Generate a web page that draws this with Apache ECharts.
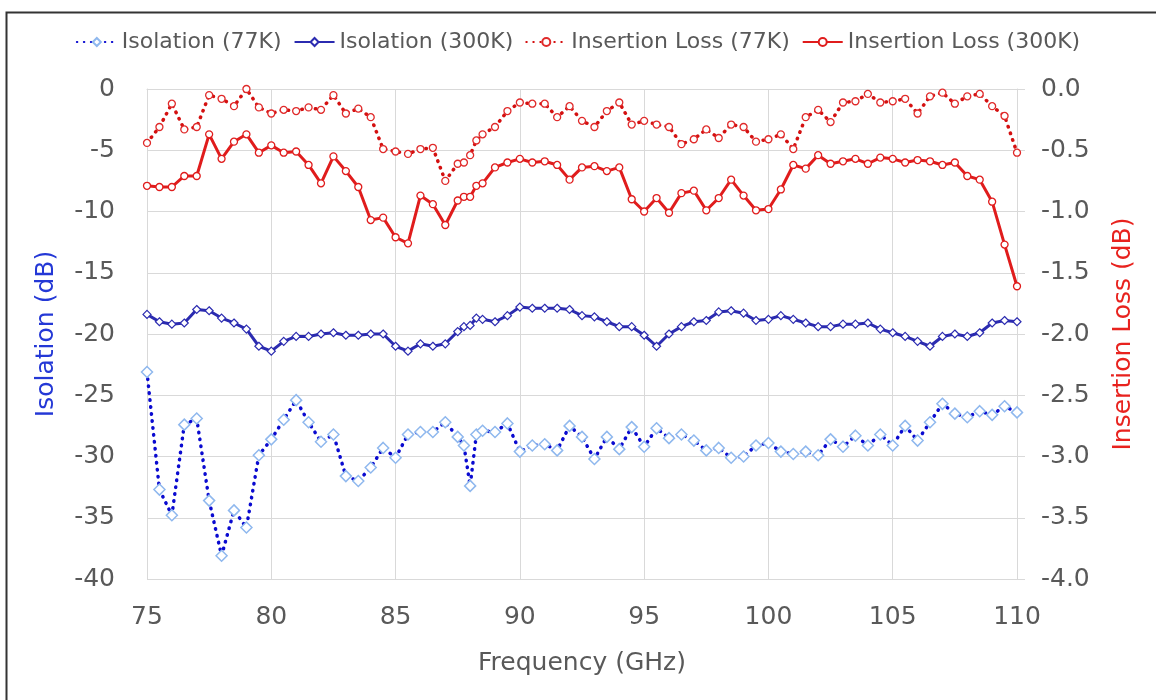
<!DOCTYPE html>
<html lang="en">
<head>
	<meta charset="UTF-8">
	<title>Isolation / Insertion Loss</title>
	<style>
		html, body { margin: 0; padding: 0; background: #fff; }
		#chart { width: 1156px; height: 700px; }
	</style>
</head>
<body>
	<div id="chart"></div>
<script src="https://cdn.jsdelivr.net/npm/echarts/dist/echarts.min.js"></script>
<script>
	// frequency points (GHz) - a few extra points around 88 GHz
	var freq = [75,75.5,76,76.5,77,77.5,78,78.5,79,79.5,
		80,80.5,81,81.5,82,82.5,83,83.5,84,84.5,
		85,85.5,86,86.5,87,87.5,87.75,88,88.25,88.5,
		89,89.5,90,90.5,91,91.5,92,92.5,93,93.5,
		94,94.5,95,95.5,96,96.5,97,97.5,98,98.5,
		99,99.5,100,100.5,101,101.5,102,102.5,103,103.5,
		104,104.5,105,105.5,106,106.5,107,107.5,108,108.5,
		109,109.5,110];

	// isolation (dB), left axis
	var iso77 = [-23.1,-32.7,-34.8,-27.4,-26.9,-33.6,-38.1,-34.4,-35.8,-29.9,
		-28.6,-27.0,-25.4,-27.2,-28.8,-28.2,-31.6,-32.0,-30.9,-29.3,
		-30.1,-28.2,-28.0,-28.0,-27.2,-28.4,-29.1,-32.4,-28.2,-27.9,
		-28.0,-27.3,-29.6,-29.1,-29.0,-29.5,-27.5,-28.4,-30.2,-28.4,
		-29.4,-27.6,-29.2,-27.7,-28.5,-28.2,-28.7,-29.5,-29.3,-30.1,
		-30.0,-29.1,-28.9,-29.6,-29.8,-29.6,-29.9,-28.6,-29.2,-28.3,
		-29.1,-28.2,-29.1,-27.5,-28.7,-27.2,-25.7,-26.5,-26.8,-26.3,
		-26.6,-25.9,-26.4];
	var iso300 = [-18.4,-19.0,-19.2,-19.1,-18.0,-18.1,-18.7,-19.1,-19.6,-21.0,
		-21.4,-20.6,-20.2,-20.2,-20.0,-19.9,-20.1,-20.1,-20.0,-20.0,
		-21.0,-21.4,-20.8,-21.0,-20.8,-19.8,-19.4,-19.3,-18.7,-18.8,
		-19.0,-18.5,-17.8,-17.9,-17.9,-17.9,-18.0,-18.5,-18.6,-19.0,
		-19.4,-19.4,-20.1,-21.0,-20.0,-19.4,-19.0,-18.9,-18.2,-18.1,
		-18.3,-18.9,-18.8,-18.5,-18.8,-19.1,-19.4,-19.4,-19.2,-19.2,
		-19.1,-19.6,-19.9,-20.2,-20.6,-21.0,-20.2,-20.0,-20.2,-19.9,
		-19.1,-18.9,-19.0];

	// insertion loss (dB), right axis
	var il77 = [-0.44,-0.31,-0.12,-0.33,-0.31,-0.05,-0.08,-0.14,0.00,-0.15,
		-0.20,-0.17,-0.18,-0.15,-0.17,-0.05,-0.20,-0.16,-0.23,-0.49,
		-0.51,-0.53,-0.49,-0.48,-0.75,-0.61,-0.60,-0.54,-0.42,-0.37,
		-0.31,-0.18,-0.11,-0.12,-0.12,-0.23,-0.14,-0.26,-0.31,-0.18,
		-0.11,-0.29,-0.26,-0.29,-0.31,-0.45,-0.41,-0.33,-0.40,-0.29,
		-0.31,-0.43,-0.41,-0.37,-0.49,-0.23,-0.17,-0.27,-0.11,-0.10,
		-0.04,-0.11,-0.10,-0.08,-0.20,-0.06,-0.03,-0.12,-0.06,-0.04,
		-0.14,-0.22,-0.52];
	var il300 = [-0.79,-0.80,-0.80,-0.71,-0.71,-0.37,-0.57,-0.43,-0.37,-0.52,
		-0.46,-0.52,-0.51,-0.62,-0.77,-0.55,-0.67,-0.80,-1.07,-1.05,
		-1.21,-1.26,-0.87,-0.94,-1.11,-0.91,-0.88,-0.88,-0.79,-0.77,
		-0.64,-0.60,-0.57,-0.60,-0.59,-0.62,-0.74,-0.64,-0.63,-0.67,
		-0.64,-0.90,-1.00,-0.89,-1.01,-0.85,-0.83,-0.99,-0.89,-0.74,
		-0.87,-0.99,-0.98,-0.82,-0.62,-0.65,-0.54,-0.61,-0.59,-0.57,
		-0.61,-0.56,-0.57,-0.60,-0.58,-0.59,-0.62,-0.60,-0.71,-0.74,
		-0.92,-1.27,-1.61];

	var xTicks = [75, 80, 85, 90, 95, 100, 105, 110];

	function pairs(ys) {
		var out = [];
		for (var i = 0; i < freq.length; i++) {
			out.push([freq[i], ys[i]]);
		}
		return out;
	}

	var font = 'DejaVu Sans';
	var gray = '#595959';
	var gridColor = '#d9d9d9';

	var myChart = echarts.init(document.getElementById('chart'));

	var option = {
		backgroundColor: '#fff',
		animation: false,
		textStyle: { fontFamily: font },
		// outer frame of the picture
		graphic: [{
			type: 'rect',
			left: 4, top: 10,
			shape: { width: 1170, height: 720 },
			style: { fill: 'none', stroke: '#333', lineWidth: 2 },
			silent: true
		}],
		legend: {
			top: 26,
			left: 'center',
			itemWidth: 40,
			itemHeight: 10,
			itemGap: 12,
			textStyle: { fontFamily: font, fontSize: 22, color: gray }
		},
		grid: {
			left: 147,
			right: 139,
			top: 89,
			bottom: 121
		},
		xAxis: {
			type: 'value',
			min: xTicks[0],
			max: xTicks[xTicks.length - 1],
			interval: 5,
			name: 'Frequency (GHz)',
			nameLocation: 'middle',
			nameGap: 72,
			nameTextStyle: { fontFamily: font, fontSize: 25, color: gray },
			axisLine: { lineStyle: { color: gridColor, width: 1 } },
			axisTick: { show: false },
			axisLabel: { fontFamily: font, fontSize: 25, color: gray, margin: 26 },
			splitLine: { show: true, lineStyle: { color: gridColor, width: 1 } }
		},
		yAxis: [
			{
				type: 'value',
				min: -40,
				max: 0,
				interval: 5,
				name: 'Isolation (dB)',
				nameLocation: 'middle',
				nameGap: 88,
				nameTextStyle: { fontFamily: font, fontSize: 25, color: '#2438d6' },
				axisLine: { show: true, lineStyle: { color: gridColor } },
				axisTick: { show: false },
				axisLabel: { fontFamily: font, fontSize: 25, color: gray, margin: 32 },
				splitLine: { show: true, lineStyle: { color: gridColor, width: 1 } }
			},
			{
				type: 'value',
				min: -4,
				max: 0,
				interval: 0.5,
				name: 'Insertion Loss (dB)',
				nameLocation: 'middle',
				nameGap: 94,
				nameTextStyle: { fontFamily: font, fontSize: 25, color: '#e8221e' },
				axisLine: { show: true, lineStyle: { color: gridColor } },
				axisTick: { show: true, length: 8, lineStyle: { color: gridColor } },
				axisLabel: {
					fontFamily: font, fontSize: 25, color: gray, margin: 24,
					formatter: function (v) { return v.toFixed(1); }
				},
				splitLine: { show: false }
			}
		],
		series: [
			{
				name: 'Isolation (77K)',
				type: 'line',
				yAxisIndex: 0,
				data: pairs(iso77),
				symbol: 'diamond',
				symbolSize: 11,
				lineStyle: { color: '#0a0ad0', width: 3.5, type: [0.5, 6.5], cap: 'round' },
				itemStyle: { color: '#fff', borderColor: '#8fb8ee', borderWidth: 1.5 },
				z: 2
			},
			{
				name: 'Isolation (300K)',
				type: 'line',
				yAxisIndex: 0,
				data: pairs(iso300),
				symbol: 'diamond',
				symbolSize: 8,
				lineStyle: { color: '#2b2bb0', width: 3 },
				itemStyle: { color: '#fff', borderColor: '#2b2bb0', borderWidth: 1.2 },
				z: 3
			},
			{
				name: 'Insertion Loss (77K)',
				type: 'line',
				yAxisIndex: 1,
				data: pairs(il77),
				symbol: 'circle',
				symbolSize: 7,
				lineStyle: { color: '#d41010', width: 3.5, type: [0.5, 6.5], cap: 'round' },
				itemStyle: { color: '#fff', borderColor: '#e02a2a', borderWidth: 1.3 },
				z: 4
			},
			{
				name: 'Insertion Loss (300K)',
				type: 'line',
				yAxisIndex: 1,
				data: pairs(il300),
				symbol: 'circle',
				symbolSize: 7,
				lineStyle: { color: '#e01c1c', width: 3 },
				itemStyle: { color: '#fff', borderColor: '#e01c1c', borderWidth: 1.3 },
				z: 5
			}
		]
	};

	myChart.setOption(option);
</script>
</body>
</html>
